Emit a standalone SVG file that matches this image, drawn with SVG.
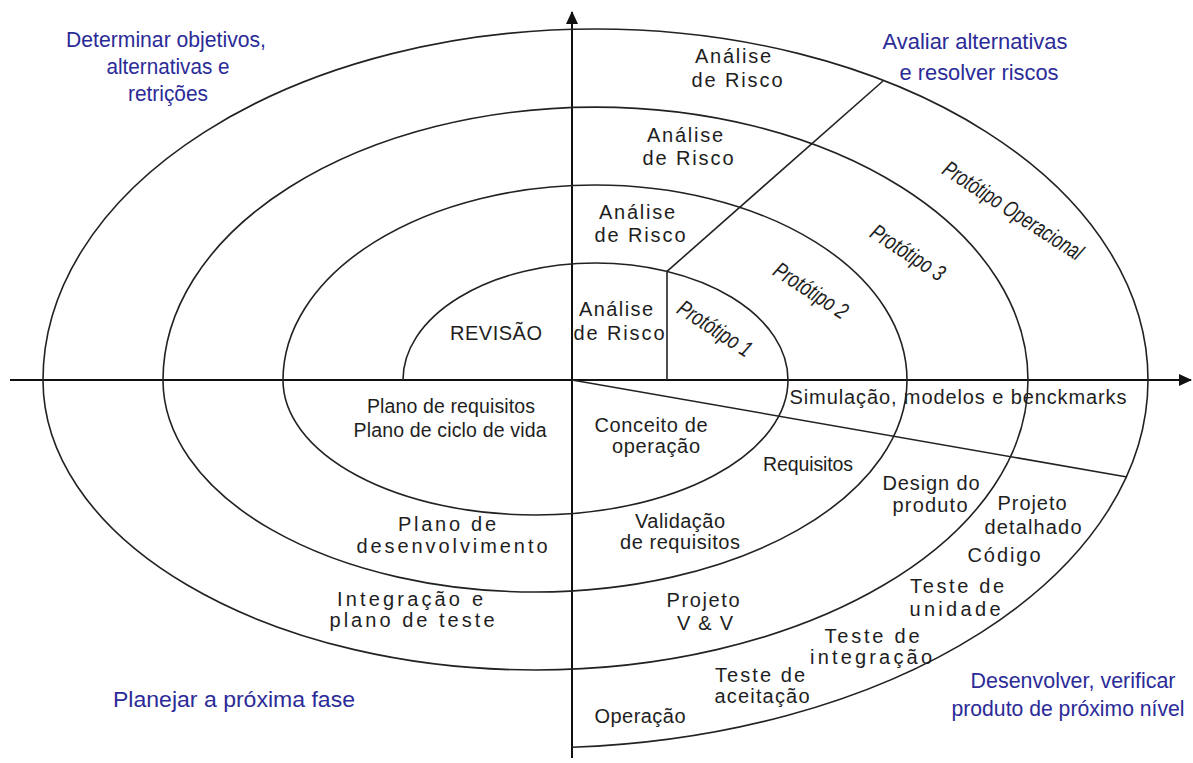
<svg xmlns="http://www.w3.org/2000/svg" width="1193" height="763" viewBox="0 0 1193 763">
<style>
.ln{fill:none;stroke:#222;stroke-width:1.6}
.ax{fill:none;stroke:#111;stroke-width:2}
.t{font-family:"Liberation Sans",Arial,sans-serif;font-size:20px;fill:#1e1e1e;text-anchor:middle}
.b{font-family:"Liberation Sans",Arial,sans-serif;font-size:22px;fill:#2b2b98;text-anchor:middle}
.p{font-family:"Liberation Sans",Arial,sans-serif;font-size:23px;font-style:italic;fill:#1e1e1e;text-anchor:middle}
</style>
<defs>
<marker id="ah" markerUnits="userSpaceOnUse" markerWidth="14" markerHeight="14" refX="12" refY="6" orient="auto">
<path d="M0,0 L13,6 L0,12 Z" fill="#111"/>
</marker>
</defs>
<rect width="1193" height="763" fill="#fff"/>
<g id="connectors">
<line class="ax" x1="572" y1="758" x2="572" y2="12" marker-end="url(#ah)"/>
<line class="ax" x1="10" y1="380" x2="1191" y2="380" marker-end="url(#ah)"/>
<path class="ln" d="M403,380 A192.5,117 0 0 1 788,380 A252.5,135 0 0 1 283,380 A312,195 0 0 1 907,380 A372,212 0 0 1 163,380 A432.5,273 0 0 1 1028,380 A492.5,290 0 0 1 43,380 A552.5,351 0 0 1 1148,380 A612.5,368 0 0 1 572,747.3"/>
<line class="ln" x1="667" y1="380" x2="667" y2="271.4"/>
<line class="ln" x1="667" y1="271.4" x2="883" y2="81"/>
<line class="ln" x1="572" y1="380" x2="1127" y2="477"/>
</g>
<g id="q-determinar">
<text class="b" x="166" y="47" textLength="200" lengthAdjust="spacingAndGlyphs">Determinar objetivos,</text>
<text class="b" x="168" y="74" textLength="123" lengthAdjust="spacingAndGlyphs">alternativas e</text>
<text class="b" x="168" y="101" textLength="80" lengthAdjust="spacingAndGlyphs">retrições</text>
</g>
<g id="q-avaliar">
<text class="b" x="975" y="49" textLength="185" lengthAdjust="spacingAndGlyphs">Avaliar alternativas</text>
<text class="b" x="979" y="80" textLength="159" lengthAdjust="spacingAndGlyphs">e resolver riscos</text>
</g>
<g id="q-planejar">
<text class="b" x="234" y="707" textLength="242" lengthAdjust="spacingAndGlyphs">Planejar a próxima fase</text>
</g>
<g id="q-desenvolver">
<text class="b" x="1073" y="688" textLength="205" lengthAdjust="spacingAndGlyphs">Desenvolver, verificar</text>
<text class="b" x="1068" y="716" textLength="233" lengthAdjust="spacingAndGlyphs">produto de próximo nível</text>
</g>
<g id="risco-4">
<text class="t" x="733" y="63" textLength="76">Análise</text>
<text class="t" x="737" y="87" textLength="91">de Risco</text>
</g>
<g id="risco-3">
<text class="t" x="685" y="142" textLength="76">Análise</text>
<text class="t" x="688" y="165" textLength="91">de Risco</text>
</g>
<g id="risco-2">
<text class="t" x="637" y="219" textLength="76">Análise</text>
<text class="t" x="640" y="242" textLength="91">de Risco</text>
</g>
<g id="risco-1">
<text class="t" x="616" y="316" textLength="74">Análise</text>
<text class="t" x="619" y="340" textLength="91">de Risco</text>
</g>
<g id="revisao">
<text class="t" x="496" y="340" textLength="92">REVISÃO</text>
</g>
<g id="prototipo-1">
<text class="p" transform="translate(714,330) rotate(33)" x="0" y="6" textLength="84" lengthAdjust="spacingAndGlyphs">Protótipo 1</text>
</g>
<g id="prototipo-2">
<text class="p" transform="translate(810,292) rotate(33)" x="0" y="6" textLength="84" lengthAdjust="spacingAndGlyphs">Protótipo 2</text>
</g>
<g id="prototipo-3">
<text class="p" transform="translate(907,254) rotate(33)" x="0" y="6" textLength="84" lengthAdjust="spacingAndGlyphs">Protótipo 3</text>
</g>
<g id="prototipo-op">
<text class="p" transform="translate(1012,212) rotate(33)" x="0" y="6" textLength="162" lengthAdjust="spacingAndGlyphs">Protótipo Operacional</text>
</g>
<g id="simulacao">
<text class="t" x="958" y="404" textLength="337">Simulação, modelos e benckmarks</text>
</g>
<g id="plano-requisitos">
<text class="t" x="451" y="413" style="font-size:19.5px" textLength="168">Plano de requisitos</text>
<text class="t" x="450" y="437" style="font-size:19.5px" textLength="193">Plano de ciclo de vida</text>
</g>
<g id="conceito">
<text class="t" x="651" y="432" textLength="113">Conceito de</text>
<text class="t" x="656" y="453" textLength="88">operação</text>
</g>
<g id="requisitos">
<text class="t" x="808" y="471" style="font-size:19.5px" textLength="90">Requisitos</text>
</g>
<g id="design">
<text class="t" x="931" y="490" textLength="97">Design do</text>
<text class="t" x="930" y="512" textLength="75">produto</text>
</g>
<g id="projeto-detalhado">
<text class="t" x="1032" y="510" textLength="69">Projeto</text>
<text class="t" x="1033" y="534" textLength="97">detalhado</text>
</g>
<g id="codigo">
<text class="t" x="1004" y="562" textLength="73">Código</text>
</g>
<g id="teste-unidade">
<text class="t" x="957" y="593" textLength="94">Teste de</text>
<text class="t" x="955" y="616" textLength="91">unidade</text>
</g>
<g id="teste-integracao">
<text class="t" x="872" y="643" textLength="95">Teste de</text>
<text class="t" x="871" y="664" textLength="122">integração</text>
</g>
<g id="teste-aceitacao">
<text class="t" x="760" y="682" textLength="90">Teste de</text>
<text class="t" x="762" y="703" textLength="95">aceitação</text>
</g>
<g id="operacao">
<text class="t" x="640" y="723" textLength="91">Operação</text>
</g>
<g id="projeto-vv">
<text class="t" x="703" y="607" textLength="73">Projeto</text>
<text class="t" x="705" y="630" textLength="56">V &amp; V</text>
</g>
<g id="validacao">
<text class="t" x="680" y="528" textLength="90">Validação</text>
<text class="t" x="680" y="549" textLength="120">de requisitos</text>
</g>
<g id="plano-desenvolvimento">
<text class="t" x="447" y="531" textLength="98">Plano de</text>
<text class="t" x="452" y="553" textLength="191">desenvolvimento</text>
</g>
<g id="integracao-plano">
<text class="t" x="410" y="606" textLength="146">Integração e</text>
<text class="t" x="412" y="627" textLength="165">plano de teste</text>
</g>
</svg>
